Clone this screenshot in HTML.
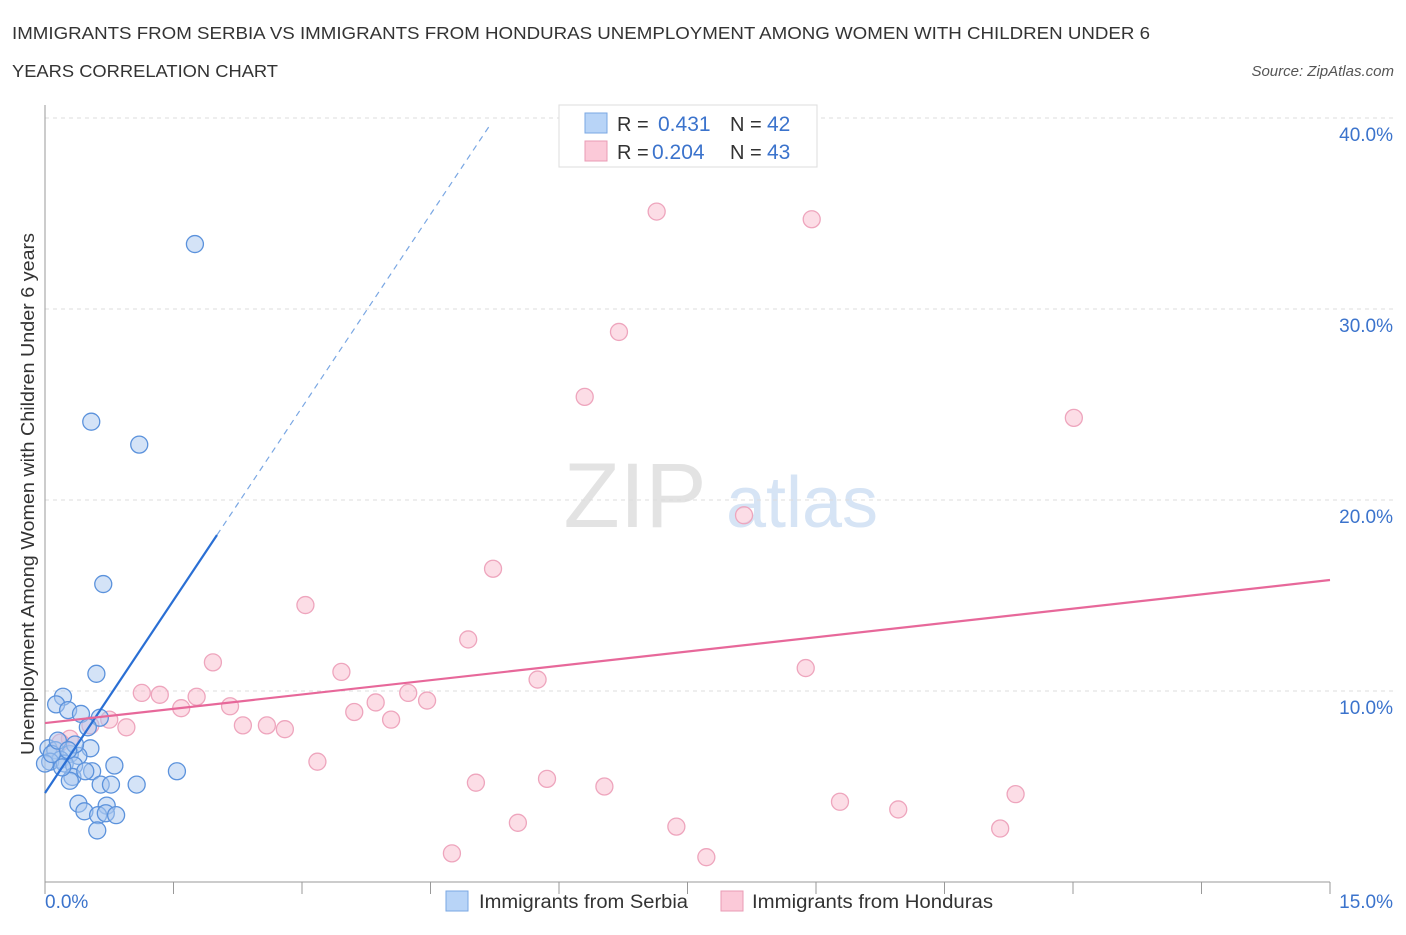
<!DOCTYPE html>
<html><head><meta charset="utf-8">
<style>
body{margin:0;background:#fff;font-family:"Liberation Sans",sans-serif;}
svg text{font-family:"Liberation Sans",sans-serif;}
</style></head>
<body>
<svg id="chart" width="1406" height="930">
<text x="12" y="39" font-size="17.5" fill="#333" textLength="1138" lengthAdjust="spacingAndGlyphs">IMMIGRANTS FROM SERBIA VS IMMIGRANTS FROM HONDURAS UNEMPLOYMENT AMONG WOMEN WITH CHILDREN UNDER 6</text>
<text x="12" y="77" font-size="17.5" fill="#333" textLength="266" lengthAdjust="spacingAndGlyphs">YEARS CORRELATION CHART</text>
<text x="1394" y="76" font-size="15" fill="#555" font-style="italic" text-anchor="end">Source: ZipAtlas.com</text>
<g>
<text x="635" y="527" font-size="92" fill="#e3e3e3" text-anchor="middle" font-family="Liberation Serif">ZIP</text>
<text x="802" y="527" font-size="72" fill="#d6e4f5" text-anchor="middle">atlas</text>
</g>
<g id="grid"></g>
<g id="axes"></g>
<g id="marks"></g>
<text transform="translate(34,494) rotate(-90)" font-size="18" fill="#333" text-anchor="middle" textLength="522" lengthAdjust="spacingAndGlyphs">Unemployment Among Women with Children Under 6 years</text>
<g>
<rect x="559" y="105" width="258" height="62" fill="#fff" stroke="#ddd"/>
<rect x="585" y="113" width="22" height="20" fill="#b8d4f7" stroke="#7aa7e3"/>
<rect x="585" y="141" width="22" height="20" fill="#fbc9d8" stroke="#ea9bb5"/>
<text x="617" y="131" font-size="20" fill="#333">R = </text>
<text x="658" y="131" font-size="21" fill="#3b73cc">0.431</text>
<text x="730" y="131" font-size="20" fill="#333">N = </text>
<text x="767" y="131" font-size="21" fill="#3b73cc">42</text>
<text x="617" y="159" font-size="20" fill="#333">R = </text>
<text x="652" y="159" font-size="21" fill="#3b73cc">0.204</text>
<text x="730" y="159" font-size="20" fill="#333">N = </text>
<text x="767" y="159" font-size="21" fill="#3b73cc">43</text>
</g>
<g>
<rect x="446" y="891" width="22" height="20" fill="#b8d4f7" stroke="#7aa7e3"/>
<text x="479" y="908" font-size="19" fill="#333" textLength="209" lengthAdjust="spacingAndGlyphs">Immigrants from Serbia</text>
<rect x="721" y="891" width="22" height="20" fill="#fbc9d8" stroke="#ea9bb5"/>
<text x="752" y="908" font-size="19" fill="#333" textLength="241" lengthAdjust="spacingAndGlyphs">Immigrants from Honduras</text>
</g>
</svg>
<script>
const serbiaX=[1.75,0.54,1.10,0.68,0.60,0.21,0.13,0.27,0.42,0.64,0.50,0.04,0.12,0.53,0.29,0.39,0.18,0.06,0.23,0.0,0.34,0.55,0.81,1.54,0.32,0.29,0.65,0.77,1.07,0.39,0.72,0.46,0.62,0.71,0.83,0.61,0.20,0.08,0.47,0.15,0.35,0.27];
const serbiaY=[33.4,24.1,22.9,15.6,10.9,9.7,9.3,9.0,8.8,8.6,8.1,7.0,6.9,7.0,6.7,6.6,6.4,6.3,6.2,6.2,6.1,5.8,6.1,5.8,5.5,5.3,5.1,5.1,5.1,4.1,4.0,3.7,3.5,3.6,3.5,2.7,6.0,6.7,5.8,7.4,7.2,6.9];
const hondX=[7.14,8.95,6.70,6.30,12.01,8.16,5.23,3.04,4.94,1.96,3.46,5.75,8.88,1.13,1.34,1.77,4.24,4.46,1.59,2.16,3.86,3.61,0.75,0.95,4.04,2.31,2.59,2.80,0.53,3.18,5.03,5.86,6.53,9.28,9.96,11.33,5.52,7.37,11.15,4.75,7.72,0.29,0.18];
const hondY=[35.1,34.7,28.8,25.4,24.3,19.2,16.4,14.5,12.7,11.5,11.0,10.6,11.2,9.9,9.8,9.7,9.9,9.5,9.1,9.2,9.4,8.9,8.5,8.1,8.5,8.2,8.2,8.0,8.2,6.3,5.2,5.4,5.0,4.2,3.8,4.6,3.1,2.9,2.8,1.5,1.3,7.5,7.3];
const serbiaLine=[0,4.66,2.008,18.17,5.19,39.6];
const hondLine=[0,8.32,15,15.81];
const yTicks=[10,20,30,40];
const yTickLabels=["10.0%","20.0%","30.0%","40.0%"];

const X0=45,X1=1330,Y0=882,PXY=19.1;
const sx=v=>X0+v*(X1-X0)/15;
const sy=v=>Y0-v*PXY;
const NS="http://www.w3.org/2000/svg";
function mk(tag,attrs,parent){const e=document.createElementNS(NS,tag);for(const k in attrs)e.setAttribute(k,attrs[k]);parent.appendChild(e);return e;}
const grid=document.getElementById('grid'),axes=document.getElementById('axes'),marks=document.getElementById('marks');
yTicks.forEach((t,i)=>{
  const l=mk('line',{x1:X0,x2:1394,y1:sy(t),y2:sy(t),stroke:'#ddd','stroke-dasharray':'4,4'},grid);
  
  
  const tx=mk('text',{x:1393,y:sy(t)+23,'font-size':19,fill:'#3b73cc','text-anchor':'end'},axes);
  tx.textContent=yTickLabels[i];
  
  
});
const ax=mk('line',{x1:X0,x2:X0,y1:105,y2:Y0,stroke:'#999'},axes);


const bx=mk('line',{x1:X0,x2:X1,y1:Y0,y2:Y0,stroke:'#999'},axes);


for(let i=0;i<=10;i++){
  const t=mk('line',{x1:sx(i*1.5),x2:sx(i*1.5),y1:Y0,y2:Y0+12,stroke:'#999'},axes);
  
  
}
const xl=mk('text',{x:45,y:908,'font-size':19,fill:'#3b73cc'},axes);xl.textContent='0.0%';


const xr=mk('text',{x:1393,y:908,'font-size':19,fill:'#3b73cc','text-anchor':'end'},axes);xr.textContent='15.0%';



hondX.forEach((x,i)=>{
  const c=mk('circle',{cx:sx(x),cy:sy(hondY[i]),r:8.5,fill:'rgba(248,180,200,0.45)',stroke:'#eea5bd','stroke-width':1.3},marks);
  
  
});
serbiaX.forEach((x,i)=>{
  const c=mk('circle',{cx:sx(x),cy:sy(serbiaY[i]),r:8.5,fill:'rgba(170,200,240,0.5)',stroke:'#5b92dc','stroke-width':1.3},marks);
  
  
});
const bl=mk('line',{x1:sx(serbiaLine[0]),y1:sy(serbiaLine[1]),x2:sx(serbiaLine[2]),y2:sy(serbiaLine[3]),stroke:'#2a6fd4','stroke-width':2.2},marks);


const bd=mk('line',{x1:sx(serbiaLine[2]),y1:sy(serbiaLine[3]),x2:sx(serbiaLine[4]),y2:sy(serbiaLine[5]),stroke:'#7aa7e3','stroke-width':1.2,'stroke-dasharray':'6,5'},marks);


const pl=mk('line',{x1:sx(hondLine[0]),y1:sy(hondLine[1]),x2:sx(hondLine[2]),y2:sy(hondLine[3]),stroke:'#e7689a','stroke-width':2.2},marks);


</script>
</body></html>
